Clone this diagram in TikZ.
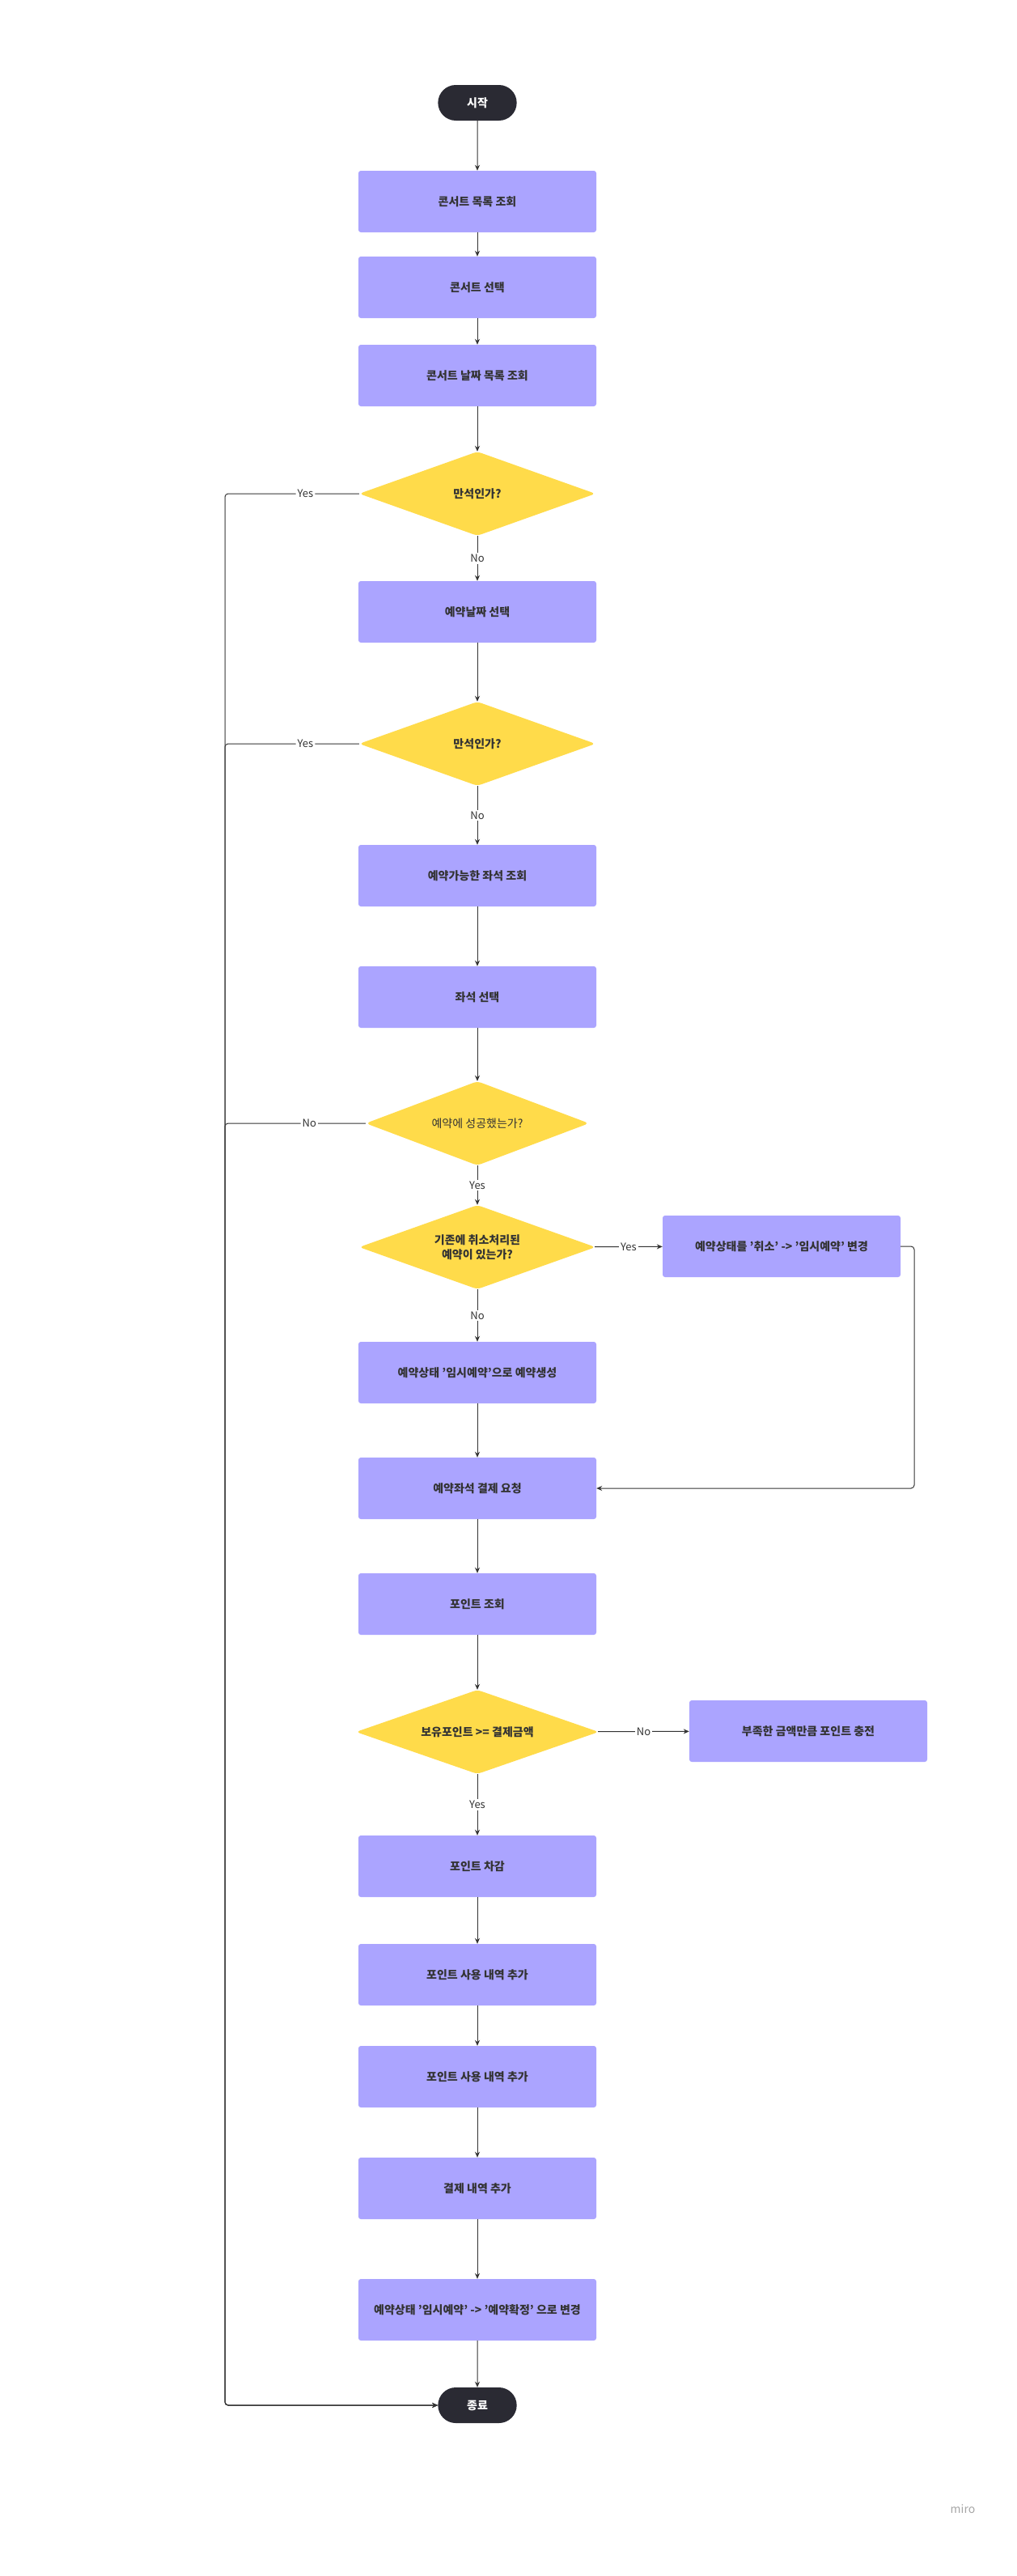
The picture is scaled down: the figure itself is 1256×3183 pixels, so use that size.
\documentclass[tikz,border=0pt]{standalone}
\usepackage{fontspec}
\setmainfont{Noto Sans CJK KR}
\usetikzlibrary{arrows.meta, shapes.geometric, shapes.misc, positioning}
\definecolor{boxcol}{HTML}{ABA4FF}
\definecolor{deccol}{HTML}{FFDB4A}
\definecolor{termcol}{HTML}{2A2A33}
\definecolor{linecol}{HTML}{333333}

\begin{document}
\begin{tikzpicture}[x=1pt,y=-1pt,
        >={Stealth[length=7pt,width=6pt]},
        every node/.style={font=\fontsize{14}{18}\selectfont\bfseries, text=linecol},
        proc/.style={rectangle, fill=boxcol, rounded corners=3pt, minimum width=294pt, minimum height=76pt, inner sep=0pt},
        dec/.style={diamond, fill=deccol, rounded corners=5pt, aspect=2.8, inner sep=0pt, minimum width=292pt, minimum height=104pt, align=center},
        term/.style={rounded rectangle, fill=termcol, text=white, minimum width=104pt, minimum height=44pt},
        lbl/.style={fill=white, font=\fontsize{13}{15}\selectfont, inner sep=2pt},
        flow/.style={draw=linecol, line width=1pt, ->},
        ]
        \fill[white] (0,0) rectangle (1256,3183);
        \useasboundingbox (0,0) rectangle (1256,3183);

        \node[term]  (start) at (590,127)  {시작};
        \node[proc]  (list)  at (590,249)  {콘서트 목록 조회};
        \node[proc]  (pick)  at (590,355)  {콘서트 선택};
        \node[proc]  (dates) at (590,464)  {콘서트 날짜 목록 조회};
        \node[dec]   (full1) at (590,610)  {만석인가?};
        \node[proc]  (day)   at (590,756)  {예약날짜 선택};
        \node[dec]   (full2) at (590,919)  {만석인가?};
        \node[proc]  (seats) at (590,1082) {예약가능한 좌석 조회};
        \node[proc]  (seat)  at (590,1232) {좌석 선택};
        \node[dec, minimum width=276pt, font=\fontsize{14}{18}\selectfont] (ok) at (590,1388) {예약에 성공했는가?};
        \node[dec]   (prev)  at (590,1541) {기존에 취소처리된\\예약이 있는가?};
        \node[proc]  (reuse) at (966,1540) {예약상태를 '취소' -> '임시예약' 변경};
        \node[proc]  (make)  at (590,1696) {예약상태 '임시예약'으로 예약생성};
        \node[proc]  (pay)   at (590,1839) {예약좌석 결제 요청};
        \node[proc]  (pts)   at (590,1982) {포인트 조회};
        \node[dec, minimum width=300pt] (enough) at (590,2140) {보유포인트 >= 결제금액};
        \node[proc]  (charge) at (999,2139) {부족한 금액만큼 포인트 충전};
        \node[proc]  (deduct) at (590,2306) {포인트 차감};
        \node[proc]  (hist1) at (590,2440) {포인트 사용 내역 추가};
        \node[proc]  (hist2) at (590,2566) {포인트 사용 내역 추가};
        \node[proc]  (bill)  at (590,2704) {결제 내역 추가};
        \node[proc]  (fix)   at (590,2854) {예약상태 '임시예약' -> '예약확정' 으로 변경};
        \node[term]  (end)   at (590,2972) {종료};
        \node[font=\fontsize{14}{16}\selectfont\mdseries, text=black!35] (logo) at (1190,3100) {miro};

        \coordinate (rail) at (278,2972);
        \coordinate (back) at (1130,1839);

        \draw[flow] (start) -- (list);
        \draw[flow] (list) -- (pick);
        \draw[flow] (pick) -- (dates);
        \draw[flow] (dates) -- (full1);
        \draw[flow] (full1) -- node[lbl] {No} (day);
        \draw[flow] (day) -- (full2);
        \draw[flow] (full2) -- node[lbl] {No} (seats);
        \draw[flow] (seats) -- (seat);
        \draw[flow] (seat) -- (ok);
        \draw[flow] (ok) -- node[lbl] {Yes} (prev);
        \draw[flow] (prev) -- node[lbl] {Yes} (reuse);
        \draw[flow] (prev) -- node[lbl] {No} (make);
        \draw[flow] (make) -- (pay);
        \draw[flow, rounded corners=4pt] (reuse.east) -| (back) -- (pay.east);
        \draw[flow] (pay) -- (pts);
        \draw[flow] (pts) -- (enough);
        \draw[flow] (enough) -- node[lbl] {No} (charge);
        \draw[flow] (enough) -- node[lbl] {Yes} (deduct);
        \draw[flow] (deduct) -- (hist1);
        \draw[flow] (hist1) -- (hist2);
        \draw[flow] (hist2) -- (bill);
        \draw[flow] (bill) -- (fix);
        \draw[flow] (fix) -- (end);
        % branches back to the end
        \draw[flow, rounded corners=4pt] (full1.west) -- node[lbl, pos=0.4] {Yes} (full1.west -| rail) -- (rail) -- (end);
        \draw[flow, rounded corners=4pt] (full2.west) -- node[lbl, pos=0.4] {Yes} (full2.west -| rail) -- (rail) -- (end);
        \draw[flow, rounded corners=4pt] (ok.west) -- node[lbl, pos=0.4] {No} (ok.west -| rail) -- (rail) -- (end);
\end{tikzpicture}
\end{document}
